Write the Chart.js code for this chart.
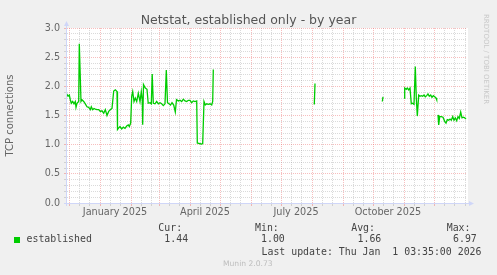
<!DOCTYPE html>
<html><head><meta charset="utf-8">
<script src="https://cdn.jsdelivr.net/npm/chart.js@4/dist/chart.umd.min.js"></script>
<style>
html,body{margin:0;padding:0;background:#F0F0F0;}
#wrap{position:relative;width:497px;height:275px;overflow:hidden;background:#F0F0F0;}
#c{position:absolute;left:0;top:0;}
.t{position:absolute;white-space:pre;}
.m{position:absolute;white-space:pre;font-family:"DejaVu Sans Mono",monospace;font-size:9.9px;line-height:12px;color:#444;}
</style></head><body>
<div id="wrap">
<canvas id="c" width="497" height="275"></canvas>
<div id="title" class="t" style="left:0;top:12px;width:497px;text-align:center;font-family:'DejaVu Sans';font-size:12.5px;line-height:15px;color:#555;"></div>
<div id="rrd" class="t" style="left:482px;top:14px;writing-mode:vertical-rl;font-family:'DejaVu Sans';font-size:7px;line-height:8px;color:#c8c8c8;"></div>
<div id="legend"></div>
</div>
<script>
// ---- data (x = days since 2024-12-01) ----
const chartTitle = 'Netstat, established only - by year';
const yAxisTitle = 'TCP connections';
const seriesName = 'established';
const days = [-2.3,-1,0.3,1.3,2.3,3.7,5,6.3,7,8,9.7,10.3,12,13,14.7,16.3,18,19.7,21.3,22.3,23.7,25,26.3,28,29.7,31.3,33,34.7,36.3,38,39.7,41.3,43,44.7,46.3,48,48.5,49.3,51,52.7,54.3,56,57.7,59.3,60.3,61.7,62.7,63.7,65,66.3,67.7,69.3,71,72.3,73.3,73.7,74.5,76.3,78,79.2,81,82.3,83.2,84.3,86,87.7,89.3,91,92.7,94.3,96,97.3,98.5,100,101.5,103,104.7,106.3,107.5,109.3,111,112.7,114.3,116,117.7,119.3,121,122.7,124.3,126,127.7,128.3,130.3,132.7,133.7,135,136.3,137.7,139.3,141,142.7,143.7,144.3,145,245.3,246,246.6,313.3,314,314.6,335,335.7,337.3,338.3,339.7,341,342.3,343.7,345,346.3,347.3,348.3,349.7,351,352.3,353.7,355,356.3,357.7,359,360.3,361.7,363,364.3,365.7,367,367.7,368.3,369,369.7,370.7,372.3,374,375.7,377,378.3,379.7,381,382.3,383.7,385,386.3,387.7,389,390.3,391.7,393,394.3,395.7,397];
const values = [1.87,1.83,1.85,1.77,1.71,1.74,1.70,1.74,1.64,1.71,1.74,2.73,1.74,1.77,1.74,1.70,1.65,1.64,1.60,1.65,1.60,1.62,1.61,1.60,1.60,1.57,1.58,1.54,1.60,1.50,1.57,1.60,1.62,1.92,1.94,1.91,1.26,1.28,1.31,1.27,1.30,1.28,1.32,1.34,1.31,1.37,1.83,1.91,1.74,1.80,1.74,1.88,1.74,1.91,1.76,1.34,2.03,1.97,1.95,1.71,1.72,1.70,2.21,1.71,1.70,1.74,1.70,1.72,1.70,1.67,1.70,2.28,1.72,1.70,1.68,1.72,1.68,1.56,1.77,1.75,1.76,1.74,1.78,1.75,1.74,1.76,1.76,1.72,1.75,1.74,1.75,1.03,1.02,1.01,1.02,1.74,1.68,1.70,1.69,1.70,1.68,1.74,2.29,null,1.69,2.05,null,1.74,1.82,null,1.80,1.97,1.95,1.97,1.94,1.97,1.70,1.71,1.69,2.34,1.80,1.49,1.85,1.83,1.84,1.83,1.85,1.82,1.84,1.87,1.83,1.85,1.81,1.84,1.82,1.80,1.77,null,1.51,1.34,1.48,1.48,1.47,1.40,1.37,1.43,1.42,1.44,1.42,1.48,1.42,1.46,1.41,1.48,1.45,1.56,1.46,1.47,1.46,1.44];
const xMin = -2, xMax = 398;
const yMin = 0, yMax = 3;
const monthStartDays = [0,31,62,90,121,151,182,212,243,274,304,335,365];
const minorOffsets = [10,20];
const yearEndDay = 396;
const xLabelDays = [46,136,227,319];
const xLabelTexts = ['January 2025','April 2025','July 2025','October 2025'];
const yStepCount = 30;   // minor steps of 0.1
const yMajorEvery = 5;   // major every 0.5
const statHeaders = ['Cur:','Min:','Avg:','Max:'];
const statValues = ['1.44','1.00','1.66','6.97'];
const lastUpdate = 'Last update: Thu Jan  1 03:35:00 2026';
const versionText = 'Munin 2.0.73';
const sideText = 'RRDTOOL / TOBI OETIKER';

// ---- text ----
document.getElementById('title').textContent = chartTitle;
document.getElementById('rrd').textContent = sideText;
const lg = document.getElementById('legend');
function addText(cls, text, left, top, extra) {
  const d = document.createElement('div');
  d.className = cls; d.textContent = text;
  d.style.left = left + 'px'; d.style.top = top + 'px';
  if (extra) Object.assign(d.style, extra);
  lg.appendChild(d);
}
const headLefts = [158.3, 255, 351.2, 446.7];
const valLefts = [164.3, 261, 357.5, 453];
statHeaders.forEach((h, i) => addText('m', h, headLefts[i], 222.3));
statValues.forEach((v, i) => addText('m', v, valLefts[i], 233.3));
addText('m', seriesName, 26.5, 233.3);
addText('m', lastUpdate, 261.5, 245.7);
addText('t', versionText, 223, 259, {fontFamily:'DejaVu Sans', fontSize:'7.6px', lineHeight:'10px', color:'#bdbdbd'});
const sq = document.createElement('div');
Object.assign(sq.style, {position:'absolute', left:'14px', top:'237px', width:'6px', height:'6px', background:'#00CC00'});
lg.appendChild(sq);

// ---- chart ----
const MAJOR = 'rgba(235,100,100,0.42)';
const MINOR = 'rgba(140,140,140,0.32)';
const AXIS = '#CFD6F8';

const bgPlugin = {
  id: 'canvasBg',
  beforeDraw(chart) {
    const {ctx, chartArea: a} = chart;
    ctx.save();
    ctx.fillStyle = '#FFFFFF';
    ctx.fillRect(a.left, a.top, a.right - a.left + 1, a.bottom - a.top);
    ctx.restore();
  }
};
const axisPlugin = {
  id: 'axisArrows',
  afterDraw(chart) {
    const {ctx, chartArea: a} = chart;
    const x0 = Math.round(a.left) - 0.5, y0 = Math.round(a.bottom) + 0.5;
    ctx.save();
    ctx.strokeStyle = AXIS; ctx.fillStyle = AXIS; ctx.lineWidth = 1;
    ctx.beginPath();
    ctx.moveTo(x0, a.bottom + 3); ctx.lineTo(x0, a.top - 3);
    ctx.moveTo(a.left - 3, y0); ctx.lineTo(a.right + 3, y0);
    ctx.stroke();
    ctx.beginPath();
    ctx.moveTo(x0, a.top - 7); ctx.lineTo(x0 - 2.5, a.top - 2); ctx.lineTo(x0 + 2.5, a.top - 2); ctx.closePath();
    ctx.moveTo(a.right + 7, y0); ctx.lineTo(a.right + 2, y0 - 2.5); ctx.lineTo(a.right + 2, y0 + 2.5); ctx.closePath();
    ctx.fill();
    ctx.restore();
  }
};

Chart.defaults.font.family = 'DejaVu Sans';
new Chart(document.getElementById('c'), {
  type: 'line',
  data: {
    datasets: [{
      label: seriesName,
      data: days.map((d, i) => ({x: d, y: values[i]})),
      borderColor: '#00CC00',
      borderWidth: 1.3,
      pointRadius: 0,
      tension: 0,
      spanGaps: false,
      fill: false
    }]
  },
  options: {
    responsive: false,
    animation: false,
    layout: {padding: {left: 0, top: 28, right: 30, bottom: 50}},
    plugins: {legend: {display: false}, title: {display: false}, tooltip: {enabled: false}},
    scales: {
      x: {
        type: 'linear', position: 'bottom', min: xMin, max: xMax,
        afterBuildTicks(scale) {
          const t = [];
          monthStartDays.forEach(m => {
            t.push({value: m, kind: 'major'});
            minorOffsets.forEach(o => t.push({value: m + o, kind: 'minor'}));
          });
          t.push({value: yearEndDay, kind: 'minor'});
          xLabelDays.forEach((d, i) => t.push({value: d, kind: 'label', text: xLabelTexts[i]}));
          t.sort((p, q) => p.value - q.value);
          scale.ticks = t;
        },
        afterFit(scale) { scale.height = 22; },
        ticks: {
          autoSkip: false, maxRotation: 0, minRotation: 0, padding: 1,
          color: '#666', font: {size: 9.7},
          callback(v, i, ticks) { return ticks[i].kind === 'label' ? ticks[i].text : ''; }
        },
        grid: {
          drawTicks: true, tickLength: 3, lineWidth: 1,
          color(ctx) {
            const k = ctx.tick && ctx.tick.kind;
            return k === 'major' ? MAJOR : (k === 'minor' ? MINOR : 'rgba(0,0,0,0)');
          }
        },
        border: {display: false, dash: [1, 1]}
      },
      y: {
        type: 'linear', position: 'left', min: yMin, max: yMax,
        afterBuildTicks(scale) {
          const t = [];
          for (let i = 0; i <= yStepCount; i++) t.push({value: (yMax - yMin) * i / yStepCount + yMin, major: i % yMajorEvery === 0});
          scale.ticks = t;
        },
        afterFit(scale) { scale.width = 67; },
        ticks: {
          autoSkip: false, padding: 4, color: '#666', font: {size: 9.6},
          callback(v, i, ticks) { return ticks[i].major ? Number(v).toFixed(1) : ''; }
        },
        grid: {
          drawTicks: true, tickLength: 3, lineWidth: 1,
          color(ctx) { return ctx.tick && ctx.tick.major ? MAJOR : MINOR; }
        },
        border: {display: false, dash: [1, 1]},
        title: {display: true, text: yAxisTitle, color: '#666', font: {size: 10}, padding: {top: 4, bottom: 0}}
      }
    }
  },
  plugins: [bgPlugin, axisPlugin]
});
</script>
</body></html>
